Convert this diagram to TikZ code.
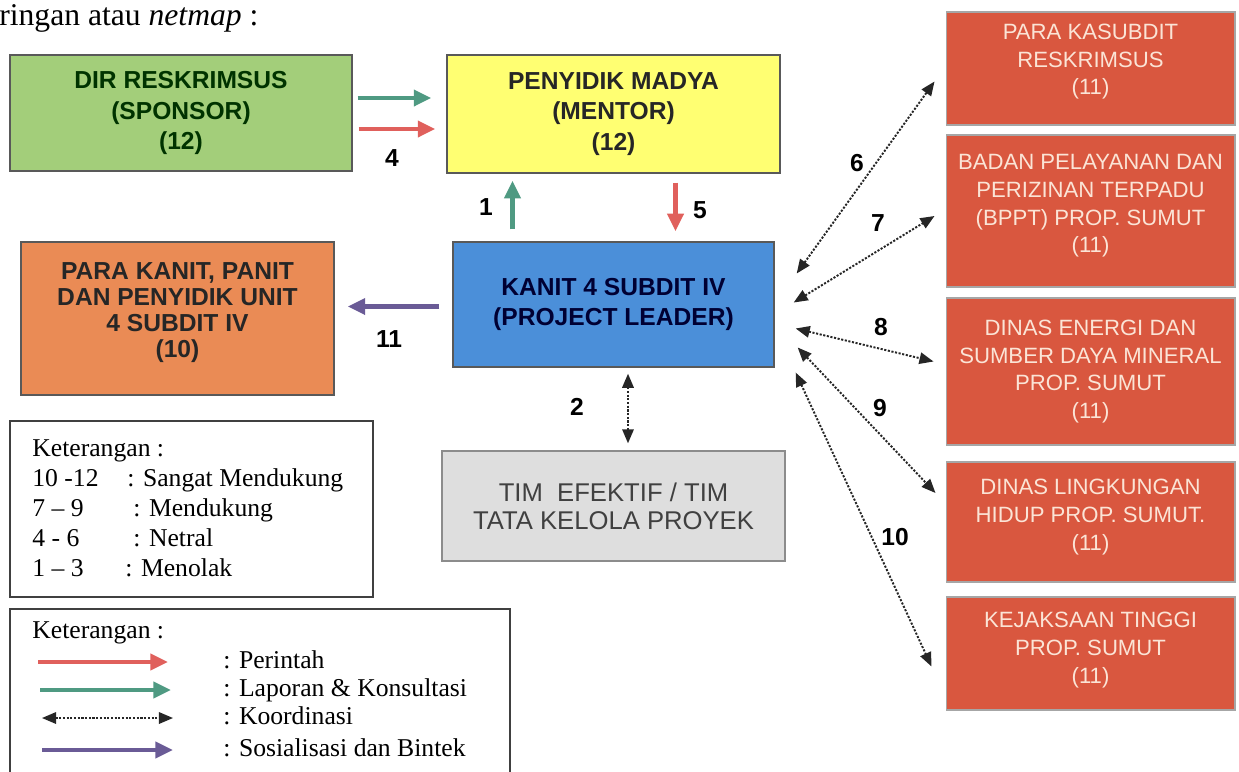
\documentclass[tikz,border=0pt]{standalone}
\usepackage{fontspec}
\setmainfont{Liberation Serif}
\setsansfont{Liberation Sans}
\usetikzlibrary{arrows.meta, positioning, calc}

\definecolor{sponsorfill}{HTML}{A3CE7A}
\definecolor{mentorfill}{HTML}{FFFF72}
\definecolor{leaderfill}{HTML}{4B8FD9}
\definecolor{kanitfill}{HTML}{EA8B55}
\definecolor{timfill}{HTML}{DEDEDE}
\definecolor{mitrafill}{HTML}{D9573F}
\definecolor{mitratext}{HTML}{FBE4D6}
\definecolor{laporgreen}{HTML}{4F9A82}
\definecolor{perintahred}{HTML}{E0605C}
\definecolor{sosialpurple}{HTML}{6A5B96}

\begin{document}
\begin{tikzpicture}[x=0.02cm, y=-0.02cm,
    netbox/.style={draw=black!65, line width=0.8pt, align=center, inner sep=2pt,
        font=\sffamily\bfseries\fontsize{14}{17.5}\selectfont},
    mitrabox/.style={draw=black!35, line width=0.6pt, fill=mitrafill, text=mitratext,
        align=center, minimum width=5.78cm, font=\sffamily\fontsize{12.6}{15.8}\selectfont},
    num/.style={inner sep=0pt, font=\sffamily\bfseries\fontsize{14}{16}\selectfont},
    legtext/.style={inner sep=0pt, anchor=base west, font=\fontsize{14.6}{17}\selectfont},
    lapor/.style={line width=2.8pt, draw=laporgreen, -{Triangle[length=10pt,width=9pt]}},
    perintah/.style={line width=2.8pt, draw=perintahred, -{Triangle[length=10pt,width=9pt]}},
    sosial/.style={line width=2.8pt, draw=sosialpurple, -{Triangle[length=10pt,width=9pt]}},
    koord/.style={line width=1.1pt, draw=black!85, dash pattern=on 1.2pt off 0.9pt,
        {Triangle[length=8pt,width=6.5pt]}-{Triangle[length=8pt,width=6.5pt]}}
]
    \useasboundingbox (0,0) rectangle (1239,771);

    % heading line cut from the page
    \node[inner sep=0pt, anchor=base west, font=\fontsize{18}{20}\selectfont] (judul) at (-1,25) {ringan atau \textit{netmap} :};

    % main actors
    \node[netbox, fill=sponsorfill, text=black!80!green, minimum width=6.84cm, minimum height=2.32cm] (sponsor) at (181,113)
        {DIR RESKRIMSUS\\(SPONSOR)\\(12)};
    \node[netbox, fill=mentorfill, text=black!85, minimum width=6.66cm, minimum height=2.36cm] (mentor) at (613.5,114)
        {PENYIDIK MADYA\\(MENTOR)\\(12)};
    \node[netbox, fill=leaderfill, text=black!80!blue, minimum width=6.42cm, minimum height=2.5cm] (leader) at (613.5,304.5)
        {KANIT 4 SUBDIT IV\\(PROJECT LEADER)};
    \node[netbox, fill=kanitfill, text=black!85, minimum width=6.26cm, minimum height=3.06cm, text depth=9.5pt,
        font=\sffamily\bfseries\fontsize{14}{14.8}\selectfont] (kanit) at (177.5,318.5)
        {PARA KANIT, PANIT\\DAN PENYIDIK UNIT\\4 SUBDIT IV\\(10)};
    \node[netbox, fill=timfill, text=black!75, draw=black!45, minimum width=6.86cm, minimum height=2.2cm,
        font=\sffamily\fontsize{14.6}{16}\selectfont] (tim) at (613.5,506)
        {TIM\ \ EFEKTIF / TIM\\TATA KELOLA PROYEK};

    % partner agencies
    \node[mitrabox, minimum height=2.26cm, text depth=10.5pt] (kasubdit) at (1090.5,68.5) {PARA KASUBDIT\\RESKRIMSUS\\(11)};
    \node[mitrabox, minimum height=3.04cm, text depth=8.5pt] (bppt) at (1090.5,211) {BADAN PELAYANAN DAN\\PERIZINAN TERPADU\\(BPPT) PROP.\ SUMUT\\(11)};
    \node[mitrabox, minimum height=2.94cm] (esdm) at (1090.5,371.5) {DINAS ENERGI DAN\\SUMBER DAYA MINERAL\\PROP. SUMUT\\(11)};
    \node[mitrabox, minimum height=2.4cm, text depth=8.5pt] (dlh) at (1090.5,522) {DINAS LINGKUNGAN\\HIDUP PROP. SUMUT.\\(11)};
    \node[mitrabox, minimum height=2.26cm, text depth=6.5pt] (kejati) at (1090.5,653.5) {KEJAKSAAN TINGGI\\PROP. SUMUT\\(11)};

    % reporting and command lines
    \draw[lapor] ($(sponsor.east)+(5,-15)$) -- ($(mentor.west)+(-15,-16)$);
    \draw[perintah] ($(sponsor.east)+(6,16)$) -- ($(mentor.west)+(-11,15)$);
    \node[num] (n4) at (392,158) {4};
    \draw[lapor] ($(leader.north)+(-101,-12)$) -- ($(mentor.south)+(-101,7)$);
    \node[num] (n1) at (486,207) {1};
    \draw[perintah] ($(mentor.south)+(62,9)$) -- ($(leader.north)+(62,-10)$);
    \node[num] (n5) at (700,210) {5};
    \draw[sosial] ($(leader.west)+(-13,2)$) -- ($(kanit.east)+(13,-12)$);
    \node[num] (n11) at (389,339) {11};
    \draw[koord] ($(leader.south)+(14.5,6)$) -- ($(tim.north)+(14.5,-7)$);
    \node[num] (n2) at (577,407) {2};

    % coordination with partners
    \draw[koord] ($(leader.east)+(22,-31)$) -- ($(kasubdit.west)+(-11,13)$);
    \node[num] (n6) at (857,163) {6};
    \draw[koord] ($(leader.east)+(19,-2)$) -- ($(bppt.west)+(-11,5)$);
    \node[num] (n7) at (878,223) {7};
    \draw[koord] ($(leader.east)+(21,24)$) -- ($(esdm.west)+(-12,-10)$);
    \node[num] (n8) at (881,327) {8};
    \draw[koord] ($(leader.east)+(23,43)$) -- ($(dlh.west)+(-10,-29)$);
    \node[num] (n9) at (880,408) {9};
    \draw[koord] ($(leader.east)+(21,68)$) -- ($(kejati.west)+(-14,13)$);
    \node[num] (n10) at (895,537) {10};

    % legend of scores
    \draw[line width=0.8pt, draw=black!75] (10,421) rectangle (373,597);
    \node[legtext] (ket1) at (32,456) {Keterangan :};
    \node[legtext] (s1) at (32,486) {10 -12};
    \node[legtext] (s1k) at (127,486) {: Sangat Mendukung};
    \node[legtext] (s2) at (32,516) {7 -- 9};
    \node[legtext] (s2k) at (133,516) {: Mendukung};
    \node[legtext] (s3) at (32,546) {4 - 6};
    \node[legtext] (s3k) at (133,546) {: Netral};
    \node[legtext] (s4) at (32,576) {1 -- 3};
    \node[legtext] (s4k) at (125,576) {: Menolak};

    % legend of lines
    \draw[line width=0.8pt, draw=black!75] (10,780) -- (10,609) -- (510,609) -- (510,780);
    \node[legtext] (ket2) at (32,638) {Keterangan :};
    \coordinate (a1) at (38,662);   \coordinate (b1) at (168,662);
    \coordinate (a2) at (40,690);   \coordinate (b2) at (171,690);
    \coordinate (a3) at (42,718);   \coordinate (b3) at (173,718);
    \coordinate (a4) at (42,750);   \coordinate (b4) at (173,750);
    \draw[perintah] (a1) -- (b1);
    \draw[lapor] (a2) -- (b2);
    \draw[koord] (a3) -- (b3);
    \draw[sosial] (a4) -- (b4);
    \node[legtext] (t1) at (223,668) {: Perintah};
    \node[legtext] (t2) at (223,696) {: Laporan \& Konsultasi};
    \node[legtext] (t3) at (223,724) {: Koordinasi};
    \node[legtext] (t4) at (223,756) {: Sosialisasi dan Bintek};
\end{tikzpicture}
\end{document}
